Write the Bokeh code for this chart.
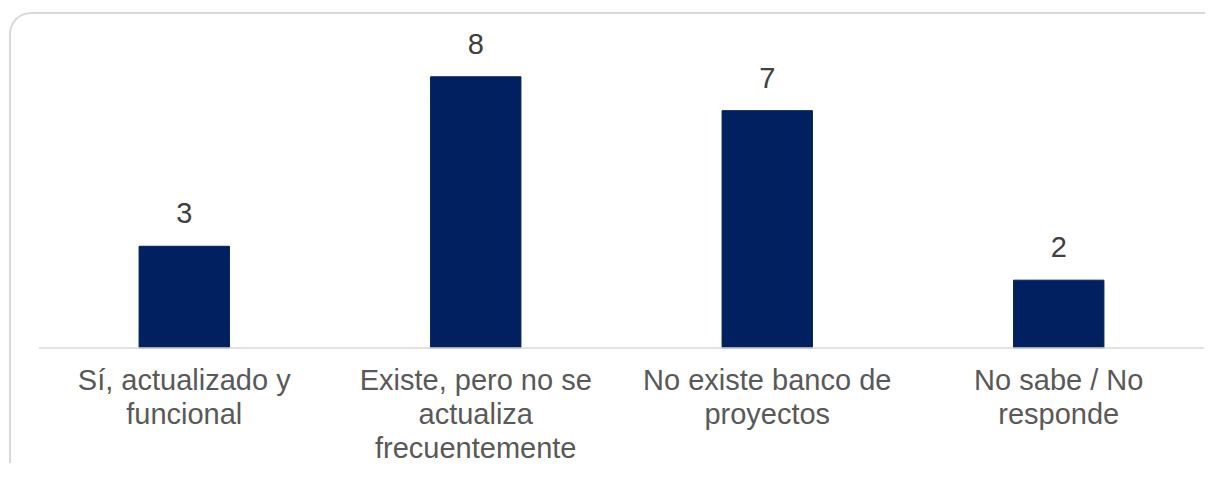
from bokeh.plotting import figure
from bokeh.models import ColumnDataSource, FactorRange, Range1d, Span
from bokeh.core.properties import value
from bokeh.embed import file_html
from bokeh.resources import INLINE

categories = [
    "Sí, actualizado y\nfuncional",
    "Existe, pero no se\nactualiza\nfrecuentemente",
    "No existe banco de\nproyectos",
    "No sabe / No\nresponde",
]
counts = [3, 8, 7, 2]
count_labels = [str(v) for v in counts]

BAR_COLOR = "#002060"
FONT = "Liberation Sans"

# layout constants (pixels)
MARGIN_L, MARGIN_T, BORDER = 9, 12, 2
W, H = 1205 - MARGIN_L, 463 - MARGIN_T        # host size (border-box)
CW, CH = W - BORDER, H - BORDER               # inner canvas size
BASE_PX = 332                                 # canvas y of the category baseline
PX_PER_UNIT = 33.75

source = ColumnDataSource(data=dict(cat=categories, val=counts, lbl=count_labels))

p = figure(
    width=W, height=H,
    x_range=FactorRange(factors=categories, range_padding=0),
    y_range=Range1d(-(CH - BASE_PX) / PX_PER_UNIT, BASE_PX / PX_PER_UNIT),
    output_backend="svg", toolbar_location=None,
    x_axis_location=None, y_axis_location=None,
    min_border_left=27, min_border_right=3,
    min_border_top=0, min_border_bottom=0,
)
p.background_fill_color = None
p.border_fill_color = None
p.outline_line_color = None
p.grid.visible = False
p.styles = {
    "border-left": f"{BORDER}px solid #d9d9d9",
    "border-top": f"{BORDER}px solid #d9d9d9",
    "border-top-left-radius": "22px",
    "margin-top": f"{MARGIN_T}px",
    "margin-left": f"{MARGIN_L}px",
    "overflow": "hidden",
}

# baseline (category axis line)
p.add_layout(Span(location=0, dimension="width",
                  line_color="#d9d9d9", line_width=1.5))

p.vbar(x="cat", top="val", width=0.31, source=source,
       fill_color=BAR_COLOR, line_color=BAR_COLOR)

# value labels
p.text(x="cat", y="val", text="lbl", source=source,
       text_align="center", text_baseline="alphabetic", y_offset=-33,
       text_font=value(FONT), text_font_size="29px", text_color="#404040")

# category labels
p.text(x="cat", y=0, text="cat", source=source,
       text_align="center", text_baseline="top", y_offset=16,
       text_line_height=1.07,
       text_font=value(FONT), text_font_size="29px", text_color="#595959")

open("out.html", "w").write(file_html(p, INLINE))
